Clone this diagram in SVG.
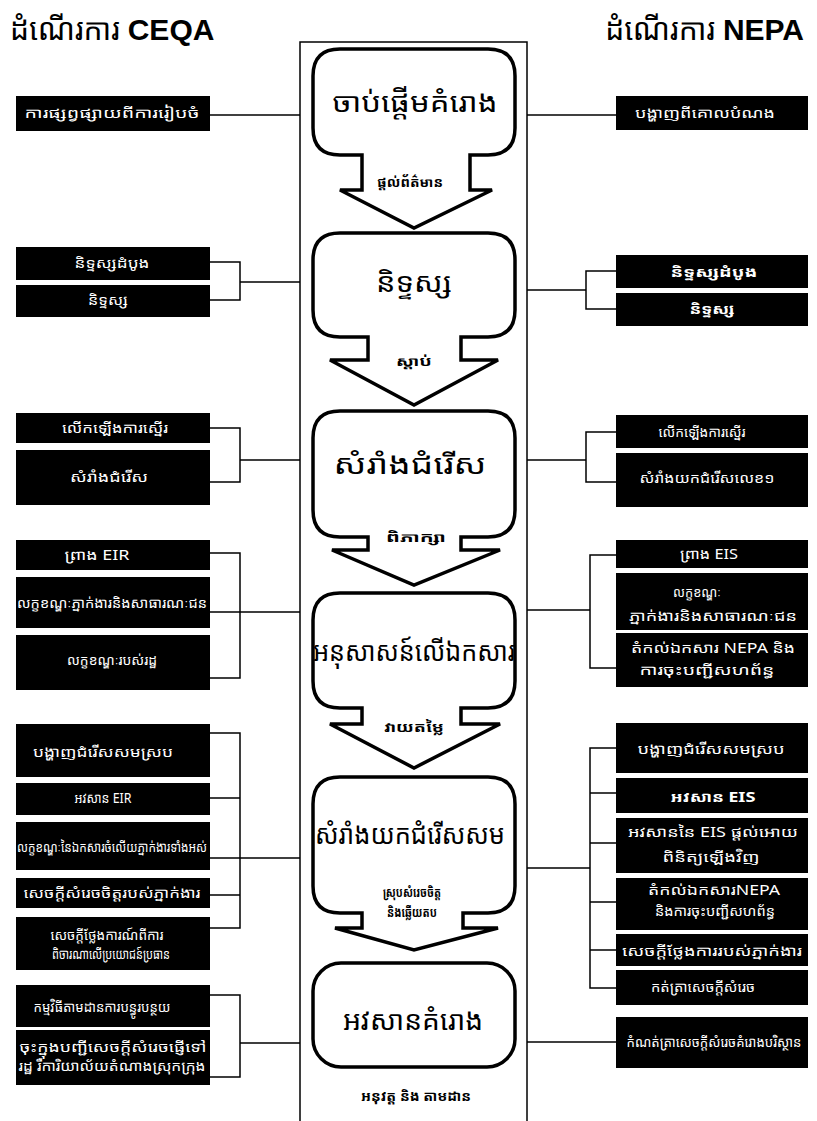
<svg xmlns="http://www.w3.org/2000/svg" width="817" height="1121" viewBox="0 0 817 1121">
  <style>
    .kh { font-family: "Noto Sans Khmer", "Khmer OS", "Noto Serif Khmer", "Noto Sans", sans-serif; }
    .title { font-size: 30px; fill: #000; }
    .lat { font-family: "Liberation Sans", Arial, sans-serif; font-weight: bold; }
    .box { fill: #000; }
    .bt { fill: #fff; font-size: 14px; text-anchor: middle; }
    .wire { fill: none; stroke: #000; stroke-width: 1.5; }
    .frame { fill: none; stroke: #000; stroke-width: 1.5; }
    .step { fill: #fff; stroke: #000; stroke-width: 3.5; stroke-linejoin: miter; }
    .st { fill: #000; font-size: 27px; text-anchor: middle; }
    .al { fill: #000; font-size: 13px; font-weight: bold; text-anchor: middle; }
  </style>

  <!-- column titles -->
  <text class="kh title" x="10" y="40">ដំណើរការ <tspan class="lat">CEQA</tspan></text>
  <text class="kh title" x="804" y="40" text-anchor="end">ដំណើរការ <tspan class="lat">NEPA</tspan></text>

  <!-- central column frame -->
  <rect class="frame" x="300" y="42" width="227" height="1100"/>

  <!-- connectors -->
  <g id="connectors">
    <!-- CEQA side -->
    <path class="wire" d="M210,115 H300"/>
    <path class="wire" d="M210,262 H240 V300 H210 M240,282 H300"/>
    <path class="wire" d="M210,428 H240 V482 H210 M240,460 H300"/>
    <path class="wire" d="M210,553 H240 V678 H210 M210,612 H300"/>
    <path class="wire" d="M210,733 H240 V928 H210 M210,798 H240 M210,895 H240 M210,858 H300"/>
    <path class="wire" d="M210,995 H240 V1077 H210 M240,1043 H300"/>
    <!-- NEPA side -->
    <path class="wire" d="M527,115 H616"/>
    <path class="wire" d="M616,271 H586 V309 H616 M527,290 H586"/>
    <path class="wire" d="M616,432 H586 V482 H616 M527,460 H586"/>
    <path class="wire" d="M616,555 H590 V668 H616 M527,610 H590"/>
    <path class="wire" d="M616,748 H590 V988 H616 M590,793 H616 M590,843 H616 M590,902 H616 M590,950 H616 M527,868 H590"/>
    <path class="wire" d="M527,1042 H616"/>
  </g>

  <!-- central process steps -->
  <g id="step1">
    <path class="step" d="M340,49 H488 Q515,49 515,76 V128 Q515,155 488,155 H470 V190 H492 L414,228 L340,190 H362 V155 H340 Q313,155 313,128 V76 Q313,49 340,49 Z"/>
    <text class="kh st" x="415" y="112" textLength="165" lengthAdjust="spacingAndGlyphs">ចាប់ផ្តើមគំរោង</text>
    <text class="kh al" x="410" y="187" textLength="66" lengthAdjust="spacingAndGlyphs">ផ្តល់ព័ត៌មាន</text>
  </g>
  <g id="step2">
    <path class="step" d="M340,233 H488 Q515,233 515,260 V310 Q515,337 488,337 H461 V360 H498 L414,405 L330,360 H368 V337 H340 Q313,337 313,310 V260 Q313,233 340,233 Z"/>
    <text class="kh st" x="414" y="292" textLength="76" lengthAdjust="spacingAndGlyphs">និទ្ទស្ស</text>
    <text class="kh al" x="414" y="366" textLength="36" lengthAdjust="spacingAndGlyphs">ស្តាប់</text>
  </g>
  <g id="step3">
    <path class="step" d="M340,411 H488 Q515,411 515,438 V510 Q515,537 488,537 H461 V550 H500 L414,585 L332,550 H368 V537 H340 Q313,537 313,510 V438 Q313,411 340,411 Z"/>
    <text class="kh st" x="410" y="474" textLength="153" lengthAdjust="spacingAndGlyphs">សំរាំងជំរើស</text>
    <text class="kh al" x="416" y="542" textLength="60" lengthAdjust="spacingAndGlyphs">ពិភាក្សា</text>
  </g>
  <g id="step4">
    <path class="step" d="M340,593 H488 Q515,593 515,620 V681 Q515,708 488,708 H461 V724 H500 L414,768 L330,724 H362 V708 H340 Q313,708 313,681 V620 Q313,593 340,593 Z"/>
    <text class="kh st" x="414" y="661" textLength="202" lengthAdjust="spacingAndGlyphs">អនុសាសន៍លើឯកសារ</text>
    <text class="kh al" x="414" y="732" textLength="60" lengthAdjust="spacingAndGlyphs">វាយតម្លៃ</text>
  </g>
  <g id="step5">
    <path class="step" d="M340,777 H488 Q515,777 515,804 V886 Q515,913 488,913 H463 V928 H498 L414,950 L335,928 H362 V913 H340 Q313,913 313,886 V804 Q313,777 340,777 Z"/>
    <text class="kh st" x="410" y="844" textLength="190" lengthAdjust="spacingAndGlyphs">សំរាំងយកជំរើសសម</text>
    <text class="kh al" x="412" y="897" textLength="58" lengthAdjust="spacingAndGlyphs">ស្រុបសំរេចចិត្ត</text>
    <text class="kh al" x="412" y="917" textLength="50" lengthAdjust="spacingAndGlyphs">និងឆ្លើយតប</text>
  </g>
  <g id="step6">
    <rect class="step" x="313" y="963" width="202" height="104" rx="28"/>
    <text class="kh st" x="413" y="1030" textLength="140" lengthAdjust="spacingAndGlyphs">អវសានគំរោង</text>
    <text class="kh al" x="416" y="1101" style="font-size:14px" textLength="110" lengthAdjust="spacingAndGlyphs">អនុវត្ត និង តាមដាន</text>
  </g>

  <!-- CEQA column -->
  <g id="ceqa-notice">
    <rect class="box" x="16" y="96" width="194" height="35"/>
    <text class="kh bt" x="112" y="118" textLength="175" lengthAdjust="spacingAndGlyphs">ការផ្សព្វផ្សាយពីការរៀបចំ</text>
  </g>
  <g id="ceqa-initial-study">
    <rect class="box" x="16" y="247" width="194" height="33"/>
    <text class="kh bt" x="112" y="268" textLength="75" lengthAdjust="spacingAndGlyphs">និទ្ទស្សដំបូង</text>
  </g>
  <g id="ceqa-scoping">
    <rect class="box" x="16" y="285" width="194" height="32"/>
    <text class="kh bt" x="108" y="305" textLength="40" lengthAdjust="spacingAndGlyphs">និទ្ទស្ស</text>
  </g>
  <g id="ceqa-proposal">
    <rect class="box" x="16" y="413" width="194" height="30"/>
    <text class="kh bt" x="115" y="433" textLength="106" lengthAdjust="spacingAndGlyphs">លើកឡើងការស្នើរ</text>
  </g>
  <g id="ceqa-alternatives">
    <rect class="box" x="16" y="450" width="194" height="55"/>
    <text class="kh bt" x="109" y="482" textLength="78" lengthAdjust="spacingAndGlyphs">សំរាំងជំរើស</text>
  </g>
  <g id="ceqa-draft">
    <rect class="box" x="16" y="540" width="194" height="30"/>
    <text class="kh bt" x="97" y="560" textLength="65" lengthAdjust="spacingAndGlyphs">ព្រាង EIR</text>
  </g>
  <g id="ceqa-public-review">
    <rect class="box" x="16" y="577" width="194" height="51"/>
    <text class="kh bt" x="112" y="608" textLength="190" lengthAdjust="spacingAndGlyphs">លក្ខខណ្ឌៈភ្នាក់ងារនិងសាធារណៈជន</text>
  </g>
  <g id="ceqa-state-review">
    <rect class="box" x="16" y="635" width="194" height="55"/>
    <text class="kh bt" x="112" y="665" textLength="90" lengthAdjust="spacingAndGlyphs">លក្ខខណ្ឌៈរបស់រដ្ឋ</text>
  </g>
  <g id="ceqa-preferred">
    <rect class="box" x="16" y="724" width="194" height="53"/>
    <text class="kh bt" x="103" y="757" textLength="140" lengthAdjust="spacingAndGlyphs">បង្ហាញជំរើសសមស្រប</text>
  </g>
  <g id="ceqa-final">
    <rect class="box" x="16" y="783" width="194" height="32"/>
    <text class="kh bt" x="103" y="803" textLength="57" lengthAdjust="spacingAndGlyphs">អវសាន EIR</text>
  </g>
  <g id="ceqa-responses">
    <rect class="box" x="16" y="822" width="194" height="48"/>
    <text class="kh bt" x="112" y="852" textLength="190" lengthAdjust="spacingAndGlyphs">លក្ខខណ្ឌៈនៃឯកសារចំលើយភ្នាក់ងារទាំងអស់</text>
  </g>
  <g id="ceqa-findings">
    <rect class="box" x="16" y="878" width="194" height="30"/>
    <text class="kh bt" x="112" y="898" textLength="177" lengthAdjust="spacingAndGlyphs">សេចក្តីសំរេចចិត្តរបស់ភ្នាក់ងារ</text>
  </g>
  <g id="ceqa-overriding">
    <rect class="box" x="16" y="917" width="194" height="53"/>
    <text class="kh bt" x="107" y="940" textLength="113" lengthAdjust="spacingAndGlyphs">សេចក្តីថ្លែងការណ៍ពីការ</text>
    <text class="kh bt" x="111" y="959" textLength="118" lengthAdjust="spacingAndGlyphs">ពិចារណាលើប្រយោជន៍ប្រធាន</text>
  </g>
  <g id="ceqa-monitoring">
    <rect class="box" x="16" y="985" width="194" height="42"/>
    <text class="kh bt" x="102" y="1012" textLength="137" lengthAdjust="spacingAndGlyphs">កម្មវិធីតាមដានការបន្ធូរបន្ថយ</text>
  </g>
  <g id="ceqa-determination">
    <rect class="box" x="16" y="1030" width="194" height="55"/>
    <text class="kh bt" x="113" y="1052" textLength="187" lengthAdjust="spacingAndGlyphs">ចុះក្នុងបញ្ជីសេចក្តីសំរេចផ្ញើទៅ</text>
    <text class="kh bt" x="112" y="1071" textLength="187" lengthAdjust="spacingAndGlyphs">រដ្ឋ រឺការិយាល័យតំណាងស្រុកក្រុង</text>
  </g>

  <!-- NEPA column -->
  <g id="nepa-purpose">
    <rect class="box" x="616" y="96" width="192" height="34"/>
    <text class="kh bt" x="705" y="118" textLength="140" lengthAdjust="spacingAndGlyphs">បង្ហាញពីគោលបំណង</text>
  </g>
  <g id="nepa-initial-study">
    <rect class="box" x="616" y="255" width="192" height="33"/>
    <text class="kh bt" x="714" y="277" style="font-weight:bold" textLength="87" lengthAdjust="spacingAndGlyphs">និទ្ទស្សដំបូង</text>
  </g>
  <g id="nepa-scoping">
    <rect class="box" x="616" y="293" width="192" height="33"/>
    <text class="kh bt" x="712" y="314" style="font-weight:bold" textLength="45" lengthAdjust="spacingAndGlyphs">និទ្ទស្ស</text>
  </g>
  <g id="nepa-proposal">
    <rect class="box" x="616" y="415" width="192" height="33"/>
    <text class="kh bt" x="702" y="437" textLength="87" lengthAdjust="spacingAndGlyphs">លើកឡើងការស្នើរ</text>
  </g>
  <g id="nepa-alternatives">
    <rect class="box" x="616" y="453" width="192" height="54"/>
    <text class="kh bt" x="707" y="483" textLength="135" lengthAdjust="spacingAndGlyphs">សំរាំងយកជំរើសលេខ១</text>
  </g>
  <g id="nepa-draft">
    <rect class="box" x="616" y="540" width="192" height="28"/>
    <text class="kh bt" x="709" y="559" textLength="58" lengthAdjust="spacingAndGlyphs">ព្រាង EIS</text>
  </g>
  <g id="nepa-public-review">
    <rect class="box" x="616" y="573" width="192" height="57"/>
    <text class="kh bt" x="697" y="597" textLength="48" lengthAdjust="spacingAndGlyphs">លក្ខខណ្ឌៈ</text>
    <text class="kh bt" x="713" y="621" textLength="168" lengthAdjust="spacingAndGlyphs">ភ្នាក់ងារនិងសាធារណៈជន</text>
  </g>
  <g id="nepa-filing">
    <rect class="box" x="616" y="633" width="192" height="54"/>
    <text class="kh bt" x="713" y="653" textLength="164" lengthAdjust="spacingAndGlyphs">តំកល់ឯកសារ NEPA និង</text>
    <text class="kh bt" x="707" y="675" textLength="135" lengthAdjust="spacingAndGlyphs">ការចុះបញ្ជីសហព័ន្ធ</text>
  </g>
  <g id="nepa-preferred">
    <rect class="box" x="616" y="723" width="192" height="50"/>
    <text class="kh bt" x="711" y="754" textLength="147" lengthAdjust="spacingAndGlyphs">បង្ហាញជំរើសសមស្រប</text>
  </g>
  <g id="nepa-final">
    <rect class="box" x="616" y="778" width="192" height="35"/>
    <text class="kh bt" x="713" y="802" style="font-weight:bold" textLength="85" lengthAdjust="spacingAndGlyphs">អវសាន EIS</text>
  </g>
  <g id="nepa-final-review">
    <rect class="box" x="616" y="818" width="192" height="55"/>
    <text class="kh bt" x="713" y="837" textLength="170" lengthAdjust="spacingAndGlyphs">អវសាននៃ EIS ផ្តល់អោយ</text>
    <text class="kh bt" x="711" y="862" textLength="97" lengthAdjust="spacingAndGlyphs">ពិនិត្យឡើងវិញ</text>
  </g>
  <g id="nepa-final-filing">
    <rect class="box" x="616" y="878" width="192" height="52"/>
    <text class="kh bt" x="714" y="895" textLength="132" lengthAdjust="spacingAndGlyphs">តំកល់ឯកសារNEPA</text>
    <text class="kh bt" x="715" y="916" textLength="120" lengthAdjust="spacingAndGlyphs">និងការចុះបញ្ជីសហព័ន្ធ</text>
  </g>
  <g id="nepa-statement">
    <rect class="box" x="616" y="934" width="192" height="32"/>
    <text class="kh bt" x="712" y="956" textLength="180" lengthAdjust="spacingAndGlyphs">សេចក្តីថ្លែងការរបស់ភ្នាក់ងារ</text>
  </g>
  <g id="nepa-record">
    <rect class="box" x="616" y="970" width="192" height="35"/>
    <text class="kh bt" x="703" y="992" textLength="104" lengthAdjust="spacingAndGlyphs">កត់ត្រាសេចក្តីសំរេច</text>
  </g>
  <g id="nepa-env-record">
    <rect class="box" x="616" y="1017" width="192" height="51"/>
    <text class="kh bt" x="714" y="1047" textLength="175" lengthAdjust="spacingAndGlyphs">កំណត់ត្រាសេចក្តីសំរេចគំរោងបរិស្ថាន</text>
  </g>
</svg>
